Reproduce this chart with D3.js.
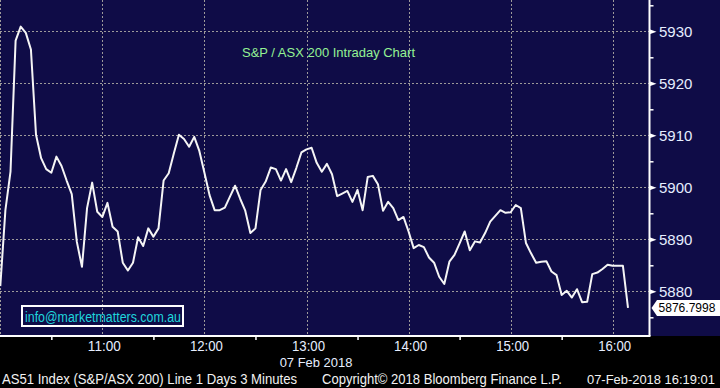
<!DOCTYPE html>
<html><head><meta charset="utf-8">
<script src="https://cdn.jsdelivr.net/npm/d3@7"></script>
<style>html,body{margin:0;padding:0;background:#000;overflow:hidden} svg{display:block}</style>
</head><body><svg id="c" width="720" height="388"></svg>
<script>
// ---- data ----
const title = "S&P / ASX 200 Intraday Chart";
const sessionDate = "07 Feb 2018";
const startTime = "10:00";
const stepMinutes = 3;
const values = [
  5881.0, 5895.6, 5903.0, 5928.2, 5930.9, 5929.7, 5926.5, 5910.1, 5905.6, 5903.5,
  5902.8, 5905.9, 5904.1, 5901.3, 5898.7, 5889.5, 5884.7, 5896.0, 5900.9, 5895.3,
  5894.3, 5897.0, 5892.4, 5891.5, 5885.5, 5884.0, 5885.5, 5890.4, 5888.7, 5892.1,
  5890.5, 5892.1, 5901.3, 5902.7, 5906.5, 5910.1, 5909.3, 5907.8, 5909.7, 5907.0,
  5902.8, 5898.5, 5895.6, 5895.6, 5896.1, 5898.2, 5900.3, 5897.8, 5895.5, 5891.2,
  5892.1, 5899.5, 5901.1, 5903.8, 5903.5, 5901.3, 5903.5, 5901.0, 5903.7, 5906.7,
  5907.3, 5907.6, 5904.7, 5903.0, 5904.5, 5902.5, 5898.3, 5898.8, 5899.3, 5897.2,
  5899.5, 5895.6, 5902.0, 5902.2, 5900.6, 5895.5, 5897.2, 5896.0, 5893.7, 5894.3,
  5891.5, 5888.3, 5888.9, 5888.5, 5886.5, 5885.5, 5882.8, 5881.4, 5885.7, 5887.0,
  5889.2, 5891.5, 5887.9, 5889.6, 5889.4, 5891.2, 5893.4, 5894.5, 5895.6, 5895.1,
  5895.2, 5896.6, 5896.0, 5889.3, 5887.3, 5885.5, 5885.7, 5885.8, 5883.8, 5883.1,
  5879.3, 5880.1, 5878.8, 5880.4, 5877.9, 5878.0, 5883.3, 5883.6, 5884.3, 5885.1,
  5884.9, 5884.9, 5884.9, 5876.8
];
const lastValueLabel = "5876.7998";
const yTicks = [5880, 5890, 5900, 5910, 5920, 5930];
const yMinorTicks = [5875, 5885, 5895, 5905, 5915, 5925, 5935];
const xGridTimes = ["10:00", "11:00", "12:00", "13:00", "14:00", "15:00", "16:00"];
const xTickLabels = ["11:00", "12:00", "13:00", "14:00", "15:00", "16:00"];
const xMinorTicks = ["10:30", "11:30", "12:30", "13:30", "14:30", "15:30"];
const footerLeft = "AS51 Index (S&P/ASX 200) Line 1 Days 3 Minutes";
const footerMid = "Copyright\u00A9 2018 Bloomberg Finance L.P.";
const footerRight = "07-Feb-2018 16:19:01";
const infoText = "info@marketmatters.com.au";

// ---- setup ----
const W = 720, H = 388;
const plotBottom = 336, axisX = 649.5;
const parseT = d3.timeParse("%H:%M");
const t0 = parseT(startTime);
const timeAt = i => new Date(t0.getTime() + i * stepMinutes * 60000);

const x = d3.scaleTime().domain([parseT("10:00"), parseT("16:00")]).range([0.3, 612.7]);
const y = d3.scaleLinear().domain([5880, 5930]).range([291.3, 31.3]);

const svg = d3.select("#c");
const FONT = "'Liberation Sans Narrow','Arial Narrow','Liberation Sans',Arial,sans-serif";

// scale font-size so the natural text width equals the target width
function fitWidth(sel, target) {
  const n = sel.node();
  const fs = parseFloat(sel.attr("font-size")) || 15;
  const w = n.getComputedTextLength();
  if (w > 0) sel.attr("font-size", (fs * target / w).toFixed(2));
  return sel;
}

svg.append("rect").attr("width", W).attr("height", H).attr("fill", "#000");
svg.append("rect").attr("width", W).attr("height", plotBottom).attr("fill", "#0f0c47");

// gridlines
const grid = svg.append("g").attr("stroke", "#9d9a9a").attr("stroke-width", 1).attr("stroke-dasharray", "2,2");
grid.selectAll("line.h").data(yTicks).join("line").attr("class", "h")
  .attr("x1", 0).attr("x2", axisX).attr("y1", d => Math.round(y(d)) + 0.5).attr("y2", d => Math.round(y(d)) + 0.5);
grid.selectAll("line.v").data(xGridTimes.map(parseT)).join("line").attr("class", "v")
  .attr("x1", d => Math.round(x(d)) + 0.5).attr("x2", d => Math.round(x(d)) + 0.5).attr("y1", 0).attr("y2", plotBottom);

// title
svg.append("text").attr("x", 242).attr("y", 57).attr("fill", "#94f294")
  .attr("font-family", "'Liberation Sans',Arial,sans-serif").attr("font-size", 13)
  .attr("textLength", 173).attr("lengthAdjust", "spacingAndGlyphs").text(title);

// line
svg.append("clipPath").attr("id", "clip").append("rect").attr("width", axisX).attr("height", plotBottom);
const line = d3.line().x((d, i) => x(timeAt(i))).y(d => y(d)).curve(d3.curveLinear);
svg.append("path").datum(values).attr("clip-path", "url(#clip)")
  .attr("fill", "none").attr("stroke", "#f5f5f5").attr("stroke-width", 2).attr("stroke-linejoin", "round")
  .attr("d", line);

// info box
svg.append("rect").attr("x", 22).attr("y", 306).attr("width", 161).attr("height", 20)
  .attr("fill", "none").attr("stroke", "#fff").attr("stroke-width", 2);
svg.append("text").attr("x", 25).attr("y", 321.5).attr("fill", "#1fd6dc")
  .attr("font-family", "'Liberation Sans',Arial,sans-serif").attr("font-size", 14)
  .attr("textLength", 156).attr("lengthAdjust", "spacingAndGlyphs").text(infoText);

// bottom axis
const xAxis = svg.append("g").attr("transform", `translate(0,${plotBottom})`)
  .call(d3.axisBottom(x).tickValues(xTickLabels.map(parseT)).tickSize(0).tickFormat(d3.timeFormat("%H:%M")));
xAxis.select(".domain").remove();
xAxis.selectAll("text").attr("y", 14.5).attr("dy", 0).attr("x", 1.5)
  .attr("fill", "#e6eeff").attr("font-family", FONT).attr("font-size", 14)
  .attr("textLength", 33).attr("lengthAdjust", "spacingAndGlyphs");
const xMinor = svg.append("g").attr("transform", `translate(0,${plotBottom})`)
  .call(d3.axisBottom(x).tickValues(xMinorTicks.map(parseT)).tickSize(4).tickFormat(""));
xMinor.select(".domain").remove();
xMinor.selectAll("line").attr("stroke", "#fff").attr("stroke-width", 1.5);
svg.append("line").attr("x1", 0).attr("x2", axisX + 1).attr("y1", plotBottom).attr("y2", plotBottom)
  .attr("stroke", "#fff").attr("stroke-width", 2);
svg.append("text").attr("x", x(parseT("13:00")) + 9.5).attr("y", 366.5).attr("text-anchor", "middle")
  .attr("fill", "#e6eeff").attr("font-family", FONT).attr("font-size", 13.5)
  .attr("textLength", 72.7).attr("lengthAdjust", "spacingAndGlyphs").text(sessionDate);

// right axis
const yAxis = svg.append("g").attr("transform", `translate(${axisX},0)`)
  .call(d3.axisRight(y).tickValues(yTicks).tickSize(0).tickPadding(9.5).tickFormat(d3.format("d")));
yAxis.select(".domain").remove();
yAxis.selectAll("text").attr("fill", "#e6eeff").attr("font-family", FONT).attr("font-size", 15).attr("dy", "0.36em");
yAxis.selectAll(".tick").append("path").attr("d", "M0,-2.5L7,0L0,2.5Z").attr("fill", "#fff");
const yMinor = svg.append("g").attr("transform", `translate(${axisX},0)`)
  .call(d3.axisRight(y).tickValues(yMinorTicks).tickSize(4).tickFormat(""));
yMinor.select(".domain").remove();
yMinor.selectAll("line").attr("stroke", "#fff").attr("stroke-width", 1.5);
svg.append("line").attr("x1", axisX).attr("x2", axisX).attr("y1", 0).attr("y2", plotBottom)
  .attr("stroke", "#fff").attr("stroke-width", 2);

// last value marker
const lastY = y(values[values.length - 1]);
svg.append("path").attr("d", `M651.5,${lastY}L657,${lastY - 8}L720,${lastY - 8}L720,${lastY + 8}L657,${lastY + 8}Z`)
  .attr("fill", "#fff");
const lastTxt = svg.append("text").attr("x", 658.5).attr("y", lastY).attr("dy", "0.36em").attr("fill", "#000")
  .attr("font-family", FONT).attr("font-size", 14)
  .text(lastValueLabel);
fitWidth(lastTxt, 57);

// footer
const foot = svg.append("g").attr("fill", "#f2f2f2").attr("font-family", FONT).attr("font-size", 15);
foot.append("text").attr("x", 2).attr("y", 384).attr("textLength", 295).attr("lengthAdjust", "spacingAndGlyphs").text(footerLeft);
foot.append("text").attr("x", 322).attr("y", 384).attr("textLength", 240).attr("lengthAdjust", "spacingAndGlyphs").text(footerMid);
const fr = foot.append("text").attr("x", 587).attr("y", 384).attr("font-size", 15).text(footerRight);
fitWidth(fr, 128);
</script></body></html>
